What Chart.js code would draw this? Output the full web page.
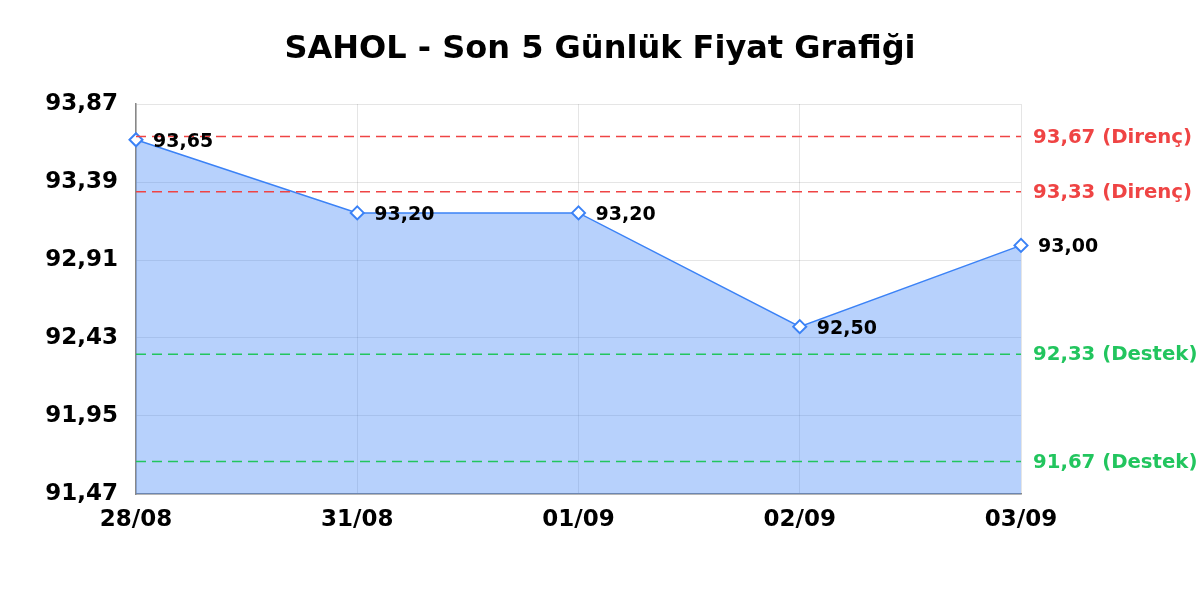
<!DOCTYPE html>
<html>
<head>
<meta charset="utf-8">
<script src="https://cdn.jsdelivr.net/npm/chart.js@4"></script>
<style>
html,body{margin:0;padding:0;background:#fff;}
#wrap{width:1200px;height:600px;}
</style>
</head>
<body>
<div id="wrap"><canvas id="c" width="1200" height="600"></canvas></div>
<script>
const categories = ['28/08', '31/08', '01/09', '02/09', '03/09'];
const prices = [93.65, 93.20, 93.20, 92.50, 93.00];
const yTicks = [91.47, 91.95, 92.43, 92.91, 93.39, 93.87];
const resistanceLevels = [93.67, 93.33];
const supportLevels = [92.33, 91.67];

const fmt = v => v.toFixed(2).replace('.', ',');
const FONT = '"DejaVu Sans", sans-serif';

const levelsPlugin = {
  id: 'levels',
  afterDatasetsDraw(chart) {
    const {ctx, chartArea, scales} = chart;
    const y = scales.y;
    const draw = (val, color, word) => {
      const py = y.getPixelForValue(val);
      ctx.save();
      ctx.strokeStyle = color;
      ctx.lineWidth = 1.7;
      ctx.setLineDash([10, 6]);
      ctx.beginPath();
      ctx.moveTo(chartArea.left, py);
      ctx.lineTo(chartArea.right, py);
      ctx.stroke();
      ctx.setLineDash([]);
      ctx.fillStyle = color;
      ctx.font = 'bold 19.7px ' + FONT;
      ctx.textAlign = 'left';
      ctx.textBaseline = 'middle';
      ctx.fillText(fmt(val) + ' (' + word + ')', chartArea.right + 12, py + 1);
      ctx.restore();
    };
    resistanceLevels.forEach(v => draw(v, '#ef4444', 'Direnç'));
    supportLevels.forEach(v => draw(v, '#22c55e', 'Destek'));
  }
};

const labelsPlugin = {
  id: 'pointLabels',
  afterDraw(chart) {
    const {ctx} = chart;
    const meta = chart.getDatasetMeta(0);
    ctx.save();
    ctx.fillStyle = '#000';
    ctx.font = 'bold 19px ' + FONT;
    ctx.textAlign = 'left';
    ctx.textBaseline = 'middle';
    meta.data.forEach((pt, i) => {
      ctx.fillText(fmt(prices[i]), pt.x + 17, pt.y + 2);
    });
    ctx.restore();
  }
};

new Chart(document.getElementById('c'), {
  type: 'line',
  data: {
    labels: categories,
    datasets: [{
      data: prices,
      borderColor: '#3b82f6',
      borderWidth: 1.5,
      backgroundColor: 'rgba(59,130,246,0.37)',
      fill: 'start',
      tension: 0,
      pointStyle: 'rectRot',
      pointRadius: 6.5,
      pointBorderWidth: 2,
      pointBackgroundColor: '#fff',
      pointBorderColor: '#3b82f6'
    }]
  },
  options: {
    responsive: false,
    animation: false,
    devicePixelRatio: 1,
    layout: { padding: { left: 0, right: 0, top: 0, bottom: 66 } },
    plugins: {
      legend: { display: false },
      tooltip: { enabled: false },
      title: {
        display: true,
        text: 'SAHOL - Son 5 Günlük Fiyat Grafiği',
        color: '#000',
        font: { family: FONT, size: 32, weight: 'bold' },
        padding: { top: 30, bottom: 35.6 }
      }
    },
    scales: {
      x: {
        offset: false,
        grid: { color: 'rgba(0,0,0,0.1)', drawTicks: false },
        border: { color: '#888', width: 1.5 },
        ticks: { color: '#000', font: { family: FONT, size: 23, weight: 'bold' }, padding: 12, maxRotation: 0 },
        afterFit(s) { s.height = 40; }
      },
      y: {
        min: yTicks[0],
        max: yTicks[yTicks.length - 1],
        grid: { color: 'rgba(0,0,0,0.1)', drawTicks: false },
        border: { color: '#888', width: 1.5 },
        afterBuildTicks(s) { s.ticks = yTicks.map(v => ({ value: v })); },
        ticks: { color: '#000', font: { family: FONT, size: 23, weight: 'bold' }, padding: 18, callback: v => fmt(v) },
        afterFit(s) { s.width = 136; }
      },
      yRight: {
        position: 'right',
        min: yTicks[0],
        max: yTicks[yTicks.length - 1],
        grid: { display: false, drawTicks: false },
        border: { display: false },
        ticks: { display: false },
        afterFit(s) { s.width = 179; }
      }
    }
  },
  plugins: [levelsPlugin, labelsPlugin]
});
</script>
</body>
</html>
